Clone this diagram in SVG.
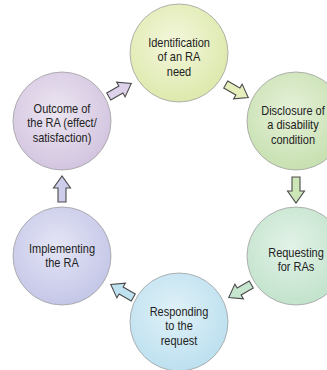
<svg xmlns="http://www.w3.org/2000/svg" width="327" height="370" viewBox="0 0 327 370">
<defs>
<radialGradient id="gY" cx="0.45" cy="0.4" r="0.6"><stop offset="0" stop-color="#f4f7dc"/><stop offset="1" stop-color="#dde9ad"/></radialGradient>
<radialGradient id="gG" cx="0.45" cy="0.4" r="0.6"><stop offset="0" stop-color="#e6f1d9"/><stop offset="1" stop-color="#c7e0b0"/></radialGradient>
<radialGradient id="gM" cx="0.45" cy="0.4" r="0.6"><stop offset="0" stop-color="#e2f2e7"/><stop offset="1" stop-color="#c2e3cc"/></radialGradient>
<radialGradient id="gB" cx="0.45" cy="0.4" r="0.6"><stop offset="0" stop-color="#e0f1f8"/><stop offset="1" stop-color="#bde0ef"/></radialGradient>
<radialGradient id="gL" cx="0.45" cy="0.4" r="0.6"><stop offset="0" stop-color="#e4e5f5"/><stop offset="1" stop-color="#c5c7e8"/></radialGradient>
<radialGradient id="gP" cx="0.45" cy="0.4" r="0.6"><stop offset="0" stop-color="#ece5f1"/><stop offset="1" stop-color="#d3c5e0"/></radialGradient>
<path id="arr" d="M-13,-4 L1,-4 L1,-8.5 L13,0 L1,8.5 L1,4 L-13,4 Z"/>
</defs>
<style>
.c{stroke:#a0a0a0;stroke-width:0.8}
.t{font-family:"Liberation Sans",Arial,sans-serif;font-size:12.5px;fill:#222;text-anchor:middle}
.a{stroke:#4a4a4a;stroke-width:1.1;stroke-linejoin:miter}
</style>
<g id="n1"><circle class="c" cx="179" cy="53" r="49" fill="url(#gY)"/>
<g transform="translate(179,0) scale(0.88,1)"><text class="t" y="47" x="0">Identification</text><text class="t" y="61.5" x="0">of an RA</text><text class="t" y="76" x="0">need</text></g></g>
<g id="n2"><circle class="c" cx="296" cy="121" r="49" fill="url(#gG)"/>
<g transform="translate(293,0) scale(0.88,1)"><text class="t" y="115" x="0">Disclosure of</text><text class="t" y="129.5" x="0">a disability</text><text class="t" y="144" x="0">condition</text></g></g>
<g id="n3"><circle class="c" cx="296" cy="256" r="49" fill="url(#gM)"/>
<g transform="translate(296,0) scale(0.88,1)"><text class="t" y="257" x="0">Requesting</text><text class="t" y="271.5" x="0">for RAs</text></g></g>
<g id="n4"><circle class="c" cx="179" cy="322" r="49" fill="url(#gB)"/>
<g transform="translate(179,0) scale(0.88,1)"><text class="t" y="316" x="0">Responding</text><text class="t" y="330.5" x="0">to the</text><text class="t" y="345" x="0">request</text></g></g>
<g id="n5"><circle class="c" cx="62" cy="256" r="49" fill="url(#gL)"/>
<g transform="translate(62,0) scale(0.88,1)"><text class="t" y="253" x="0">Implementing</text><text class="t" y="267.5" x="0">the RA</text></g></g>
<g id="n6"><circle class="c" cx="62" cy="121" r="49" fill="url(#gP)"/>
<g transform="translate(62,0) scale(0.88,1)"><text class="t" y="113" x="0">Outcome of</text><text class="t" y="127.5" x="0">the RA (effect/</text><text class="t" y="142" x="0">satisfaction)</text></g></g>
<g id="connectors">
<use href="#arr" class="a" fill="#ddd2ea" transform="translate(120,90) rotate(-30)"/>
<use href="#arr" class="a" fill="#e6efbc" transform="translate(237,91) rotate(30)"/>
<use href="#arr" class="a" fill="#cde6b8" transform="translate(296,190) rotate(90)"/>
<use href="#arr" class="a" fill="#c6e6d0" transform="translate(240,291) rotate(150)"/>
<use href="#arr" class="a" fill="#bfe2f0" transform="translate(122,291) rotate(210)"/>
<use href="#arr" class="a" fill="#cdcdeb" transform="translate(62,189) rotate(-90)"/>
</g>
</svg>
